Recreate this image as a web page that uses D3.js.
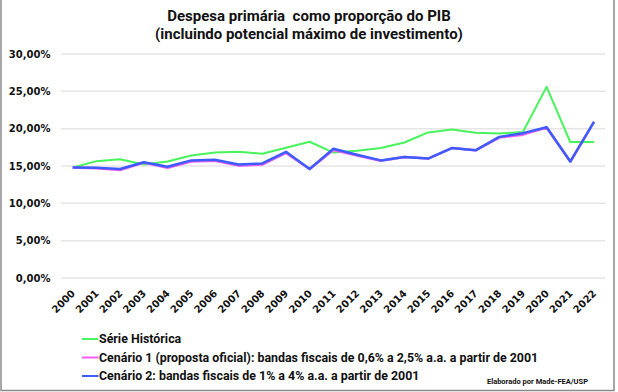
<!DOCTYPE html>
<html><head><meta charset="utf-8">
<script src="https://cdn.jsdelivr.net/npm/d3@7"></script>
<style>body{margin:0;background:#fff}svg{display:block}text{white-space:pre}</style>
</head><body><svg id="c" width="618" height="392"></svg>
<script>
const years = d3.range(2000, 2023).map(String);
const serieHistorica = [14.8,15.65,15.9,15.2,15.6,16.4,16.8,16.9,16.65,17.45,18.25,16.8,17.05,17.4,18.15,19.5,19.9,19.45,19.35,19.55,25.6,18.2,18.2];
const cenario1 = [14.8,14.7,14.45,15.45,14.75,15.6,15.7,15.05,15.2,16.75,14.6,17.15,16.4,15.7,16.2,16.0,17.4,17.1,18.8,19.2,20.15,15.6,20.9];
const cenario2 = [14.8,14.75,14.6,15.5,14.9,15.75,15.85,15.2,15.35,16.9,14.6,17.3,16.5,15.75,16.2,16.0,17.4,17.1,18.9,19.4,20.2,15.6,20.9];
const yTicks = [0,5,10,15,20,25,30];
const seriesNames = ["Série Histórica","Cenário 1 (proposta oficial): bandas fiscais de 0,6% a 2,5% a.a. a partir de 2001","Cenário 2: bandas fiscais de 1% a 4% a.a. a partir de 2001"];
const colors = ["#48f45c","#f45cf4","#3d5cff"];
const titleLines = ["Despesa primária  como proporção do PIB","(incluindo potencial máximo de investimento)"];
const credit = "Elaborado por Made-FEA/USP";

const svg = d3.select("#c");
const x = d3.scalePoint().domain(years).range([72.7, 594]);
const y = d3.scaleLinear().domain([0,30]).range([278, 54]);
const fmt = v => d3.format(".2f")(v).replace(".", ",") + "%";

// border
svg.append("path").attr("d","M1,0V390.5H614V0").attr("fill","none").attr("stroke","#8a8a8a").attr("stroke-width",1.5);

// title
svg.append("g").selectAll("text").data(titleLines).join("text")
  .attr("x",309).attr("y",(d,i)=>21+i*18).attr("text-anchor","middle")
  .attr("font-family","Roboto").attr("font-weight",700).attr("font-size",15).attr("fill","#111").text(d=>d);

// grid
svg.append("g").selectAll("line").data(yTicks).join("line")
  .attr("x1",61).attr("x2",605).attr("y1",d=>y(d)).attr("y2",d=>y(d))
  .attr("stroke","#e6e6e6").attr("stroke-width",1.5);

// y labels
svg.append("g").selectAll("text").data(yTicks).join("text")
  .attr("x",50.5).attr("y",d=>y(d)+3.8).attr("text-anchor","end")
  .attr("font-family","DejaVu Sans").attr("font-weight",700).attr("font-size",10).attr("fill","#111").text(fmt);

// x labels
svg.append("g").selectAll("text").data(years).join("text")
  .attr("text-anchor","end")
  .attr("transform",d=>`translate(${x(d)+3},294) rotate(-45)`)
  .attr("font-family","DejaVu Sans").attr("font-weight",700).attr("font-size",10).attr("fill","#111").text(d=>d);

// lines
const line = d3.line().x((d,i)=>x(years[i])).y(d=>y(d));
const data = [serieHistorica, cenario1, cenario2];
const widths = [2,2.5,2.5];
svg.append("g").selectAll("path").data(data).join("path")
  .attr("d",line).attr("fill","none").attr("stroke",(d,i)=>colors[i]).attr("stroke-width",(d,i)=>widths[i]).attr("stroke-linejoin","round");

// legend
const lg = svg.append("g").selectAll("g").data(seriesNames).join("g")
  .attr("transform",(d,i)=>`translate(82,${339+i*18.5})`);
lg.append("line").attr("x1",0).attr("x2",16.5).attr("y1",0).attr("y2",0).attr("stroke",(d,i)=>colors[i]).attr("stroke-width",2);
lg.append("text").attr("x",17).attr("y",4.3).attr("font-family","Roboto").attr("font-weight",700).attr("font-size",12.4).attr("fill","#111").text(d=>d);

svg.append("text").attr("x",588).attr("y",384).attr("text-anchor","end")
  .attr("font-family","Roboto").attr("font-weight",700).attr("font-size",7.5).attr("fill","#111").text(credit);
</script></body></html>
